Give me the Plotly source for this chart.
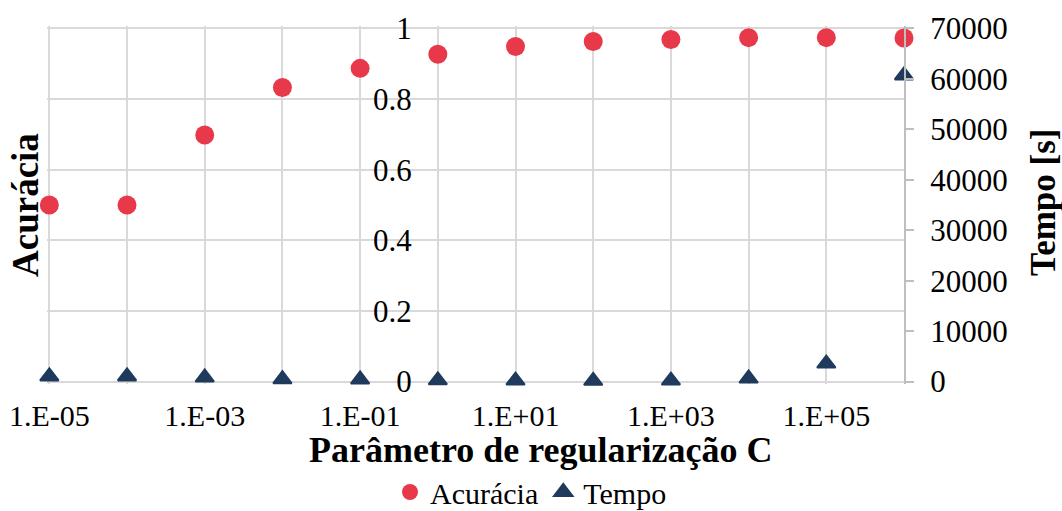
import plotly.graph_objects as go

# Regularisation parameter C (log scale)
c_values = [1e-5, 1e-4, 1e-3, 1e-2, 1e-1, 1e0, 1e1, 1e2, 1e3, 1e4, 1e5, 1e6]
# Accuracy for each C
acuracia = [0.50, 0.50, 0.698, 0.833, 0.887, 0.927, 0.949, 0.963, 0.969, 0.974, 0.974, 0.973]
# Training time [s] for each C
tempo = [1000, 1000, 800, 450, 400, 250, 200, 150, 200, 600, 3560, 60700]

x_tick_vals = [1e-5, 1e-4, 1e-3, 1e-2, 1e-1, 1e0, 1e1, 1e2, 1e3, 1e4, 1e5, 1e6]
x_tick_text = ["1.E-05", "", "1.E-03", "", "1.E-01", "", "1.E+01", "", "1.E+03", "", "1.E+05", ""]
acc_ticks = [0, 0.2, 0.4, 0.6, 0.8, 1]
acc_tick_text = ["0", "0.2", "0.4", "0.6", "0.8", "1"]
time_ticks = [0, 10000, 20000, 30000, 40000, 50000, 60000, 70000]
time_tick_text = ["0", "10000", "20000", "30000", "40000", "50000", "60000", "70000"]

RED = "#E8394A"
NAVY = "#1F3A5C"
GRID = "#D9D9D9"
FONT = "Liberation Serif"

# Plot area in pixels; ranges are padded a hair so edge gridlines stay visible
W, H = 1062, 511
M_L, M_R, M_T, M_B = 47, 158, 26, 127
X_RANGE = [-5.03, 6]
Y_PAD = 0.007
Y_RANGE = [-Y_PAD, 1 + Y_PAD]
Y2_RANGE = [-Y_PAD * 70000, (1 + Y_PAD) * 70000]
# The accuracy axis crosses the category axis at C = 1
y_axis_pos = (0 - X_RANGE[0]) / (X_RANGE[1] - X_RANGE[0])

fig = go.Figure()
fig.add_trace(go.Scatter(
    x=c_values, y=acuracia, mode="markers", name="Acurácia",
    marker=dict(symbol="circle", size=19, color=RED),
    yaxis="y", cliponaxis=False,
))
fig.add_trace(go.Scatter(
    x=c_values, y=tempo, mode="markers", name="Tempo",
    marker=dict(symbol="triangle-up", size=16, color=NAVY, line=dict(color=NAVY, width=2)),
    yaxis="y2", cliponaxis=False,
))

plot_w = W - M_L - M_R
plot_h = H - M_T - M_B

fig.update_layout(
    width=W, height=H,
    margin=dict(l=M_L, r=M_R, t=M_T, b=M_B, autoexpand=False),
    paper_bgcolor="white", plot_bgcolor="white",
    font=dict(family=FONT, color="black"),
    showlegend=True,
    legend=dict(
        orientation="h", x=0.5, xanchor="center", xref="container",
        y=1 - (492 - M_T) / plot_h, yanchor="middle", yref="paper",
        font=dict(family=FONT, size=30, color="black"),
        itemwidth=30, tracegroupgap=0, bgcolor="rgba(0,0,0,0)",
    ),
    xaxis=dict(
        type="log", range=X_RANGE,
        tickvals=x_tick_vals, ticktext=x_tick_text,
        tickfont=dict(family=FONT, size=30, color="black"),
        showgrid=True, gridcolor=GRID, gridwidth=2,
        showline=False, zeroline=False, ticks="",
        ticklabelstandoff=11, automargin=False,
        anchor="y",
    ),
    yaxis=dict(
        range=Y_RANGE, tickvals=acc_ticks, ticktext=acc_tick_text,
        tickfont=dict(family=FONT, size=31, color="black"),
        showgrid=True, gridcolor=GRID, gridwidth=2,
        showline=False, zeroline=False, ticks="",
        anchor="free", position=y_axis_pos, side="left",
        ticklabelstandoff=26, automargin=False,
    ),
    yaxis2=dict(
        range=Y2_RANGE, tickvals=time_ticks, ticktext=time_tick_text,
        tickfont=dict(family=FONT, size=31, color="black"),
        overlaying="y", side="right", anchor="x",
        showgrid=False, zeroline=False,
        showline=True, linecolor="#BFBFBF", linewidth=2,
        ticks="outside", ticklen=8, tickwidth=2, tickcolor="#BFBFBF",
        ticklabelstandoff=10, automargin=False,
    ),
)

# Axis titles, placed by pixel centre
titles = [
    ("<b>Parâmetro de regularização C</b>", 541, 450, 0, 36),
    ("<b>Acurácia</b>", 25, 205, -90, 37),
    ("<b>Tempo [s]</b>", 1044, 203, -90, 35),
]
for text, px, py, angle, size in titles:
    fig.add_annotation(
        text=text, showarrow=False, textangle=angle,
        xref="paper", yref="paper",
        x=(px - M_L) / plot_w, y=1 - (py - M_T) / plot_h,
        xanchor="center", yanchor="middle",
        font=dict(family=FONT, size=size, color="black"),
    )

fig.write_html("out.html")
